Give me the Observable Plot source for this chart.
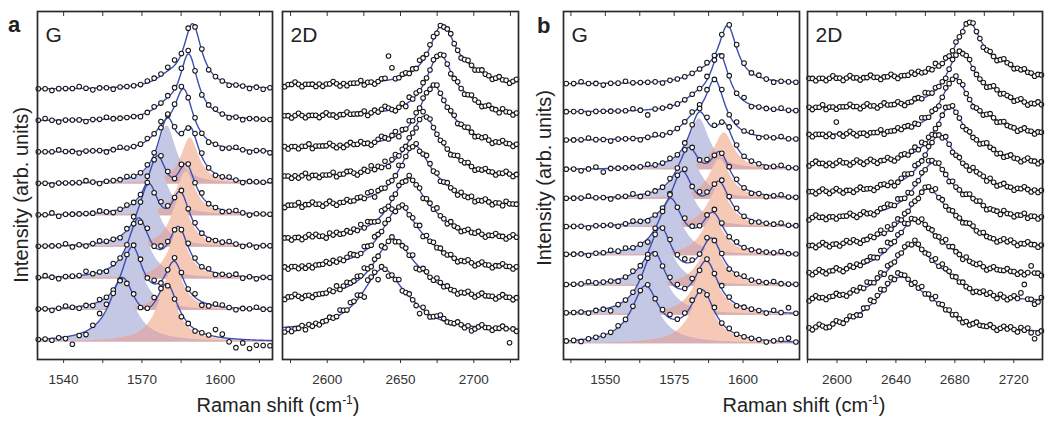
<!DOCTYPE html>
<html>
<head>
<meta charset="utf-8">
<script src="https://cdn.jsdelivr.net/npm/d3@7"></script>
<script src="https://cdn.jsdelivr.net/npm/@observablehq/plot@0.6"></script>
<style>
  body { margin: 0; background: #fff; }
  #fig { position: relative; width: 1050px; height: 428px; overflow: hidden; }
</style>
</head>
<body>
<div id="fig"></div>
<script>
const FONT = "'Liberation Sans', Arial, Helvetica, sans-serif";
const LINE = "#3a4db3";
const BLUE = "#c5c8e4";
const PINK = "#f6c9b7";
const MAUVE = "#d8afb5";

// Measured points are stored as deviations from the fitted curve, one digit per point
// (5 = on the curve, each step = one residual unit of intensity).
const G_RES_UNIT = 0.06;
const D_RES_UNIT = 0.08;

// ---------- panel a, G band: 9 spectra, top to bottom ----------
const aG_domain = [1530, 1620];
const aG_ticks = [1540, 1555, 1570, 1585, 1600, 1615];
const aG_labels = [1540, 1570, 1600];
const aG_offset = [9.32, 8.23, 7.14, 6.05, 4.96, 3.87, 2.78, 1.69, 0.60];
const aG_split  = [0, 0, 0, 1, 1, 1, 1, 1, 1];
const aG_loC = [1580, 1579, 1578.5, 1579.6, 1575.8, 1572.5, 1568.7, 1566.3, 1562.4];
const aG_loH = [0.28, 0.34, 0.55, 2.0, 1.86, 2.0, 1.97, 2.1, 2.07];
const aG_loW = [6, 6, 5.5, 4.4, 4.6, 4.8, 5.0, 4.9, 6.0];
const aG_hiC = [1589.4, 1587.9, 1586.0, 1588.5, 1587.0, 1584.7, 1584.0, 1582.4, 1579.6];
const aG_hiH = [2.18, 2.2, 2.0, 1.59, 1.52, 1.66, 1.62, 1.52, 1.79];
const aG_hiW = [4.2, 4.2, 4.5, 4.2, 4.4, 4.5, 4.6, 4.5, 5.3];
const aG_start = 1530.3, aG_step = 2.61;
const aG_resid = [
  "55455 56545 54555 56667 85756 45545 54545",
  "56545 55455 65555 45656 67754 56545 45555",
  "55565 54555 45655 56576 67565 45456 54554",
  "55455 55654 55565 56687 65477 54565 45556",
  "55645 55556 54565 57576 47657 55456 54555",
  "55556 45456 55467 56476 56565 45565 45455",
  "56545 55755 46556 38576 55765 64556 45455",
  "55456 54546 55366 75745 76573 46654 55655",
  "55454 04369 85446 45864 43545 59730 30222"
];

// ---------- panel a, 2D band ----------
const aD_domain = [2569.5, 2730.5];
const aD_ticks = [2575, 2600, 2625, 2650, 2675, 2700, 2725];
const aD_labels = [2600, 2650, 2700];
const aD_offset = [9.46, 8.38, 7.31, 6.29, 5.27, 4.13, 3.11, 2.05, 0.97];
const aD_center = [2678.6, 2676.7, 2672.2, 2666.0, 2659.7, 2655.1, 2649.5, 2644.9, 2637.7];
const aD_height = [2.04, 2.08, 2.1, 2.05, 2.04, 2.08, 2.1, 2.05, 2.1];
const aD_width  = [11, 11.5, 12, 12.5, 13.5, 14.5, 15.5, 16.5, 17.5];
const aD_shoulder = { shift: 20, frac: 0.1, width: 12 };
const aD_start = 2571, aD_step = 2.36;
const aD_resid = [
  "4556545554 5455654545 5564554566 5555665657 6566454565 5456545655 45655456",
  "5545654555 4565545565 5556456567 6545647565 6556556545 6545655456 55465545",
  "5455455645 5556545456 5565545676 5674657565 6545655566 4556545565 45565545",
  "5545456455 4555645566 5456575657 4675656545 7565556545 6556545565 54556545",
  "4555645565 5456545565 5665774665 6557456564 5765645655 4655645565 45546555",
  "5545545656 5546565565 6575765476 5656546556 4665755465 5456556545 56554565",
  "5455454545 5565656567 6557657656 5745665657 4656565565 4556545655 45565545",
  "4556545545 5556575676 6768656574 5645565734 6655765655 4556545655 54565545",
  "3434453545 4556557657 6752766565 3557456542 6545676555 6545345655 45565154"
];
// [spectrum, point index, deviation] for isolated points far from the fit
const aD_outliers = [[0, 30, 0.83], [0, 31, 0.4], [8, 27, -0.3], [8, 65, -0.48]];

// ---------- panel b, G band: 10 spectra ----------
const bG_domain = [1534.8, 1620.5];
const bG_ticks = [1537.5, 1550, 1562.5, 1575, 1587.5, 1600, 1612.5];
const bG_labels = [1550, 1575, 1600];
const bG_offset = [9.5, 8.53, 7.55, 6.54, 5.53, 4.55, 3.58, 2.53, 1.53, 0.54];
const bG_split  = [0, 0, 0, 1, 1, 1, 1, 1, 1, 1];
const bG_loC = [1585, 1583, 1582, 1584.1, 1580.2, 1577.8, 1573.6, 1570.0, 1567.5, 1564.5];
const bG_loH = [0.25, 0.35, 0.5, 1.76, 1.59, 1.79, 1.86, 1.93, 2.07, 1.9];
const bG_loW = [6, 6, 5.5, 4.6, 5.0, 5.0, 5.2, 5.2, 5.5, 6.0];
const bG_hiC = [1594.4, 1591.5, 1589.8, 1593.2, 1591.6, 1591.3, 1589.1, 1588.5, 1586.7, 1585.2];
const bG_hiH = [1.95, 1.9, 1.94, 1.28, 1.38, 1.38, 1.31, 1.52, 1.72, 1.72];
const bG_hiW = [4.1, 4.2, 4.4, 4.3, 4.6, 4.8, 5.0, 5.0, 5.2, 5.4];
const bG_start = 1535.8, bG_step = 2.69;
const bG_resid = [
  "55655 45565 55545 55556 56676 56545 55",
  "55545 55556 52555 55557 65657 45556 55",
  "55565 54555 45655 55667 58575 64556 55",
  "55456 35555 56556 56677 65765 55456 55",
  "55565 54556 45556 56657 55665 45456 55",
  "55545 55456 54556 67576 57665 45556 55",
  "55545 56565 53557 57656 76565 55556 55",
  "55565 55456 54557 67657 56456 55565 55",
  "55545 53555 66457 75746 57645 55465 85",
  "55455 55655 56567 56755 75655 55456 75"
];

// ---------- panel b, 2D band ----------
const bD_domain = [2580, 2739.5];
const bD_ticks = [2580, 2600, 2620, 2640, 2660, 2680, 2700, 2720];
const bD_labels = [2600, 2640, 2680, 2720];
const bD_offset = [9.67, 8.67, 7.73, 6.72, 5.74, 4.83, 3.84, 2.88, 1.96, 0.89];
const bD_center = [2689.5, 2684.0, 2679.9, 2676.5, 2669.7, 2665.4, 2661.4, 2653.4, 2651.2, 2643.2];
const bD_height = [1.9, 1.92, 1.91, 1.93, 1.95, 1.9, 1.98, 1.9, 1.94, 1.9];
const bD_width  = [11, 11.5, 12, 12.5, 13.5, 15, 17, 18, 19, 21];
const bD_shoulder = { shift: 24, frac: 0.15, width: 12 };
const bD_start = 2581, bD_step = 2.32;
const bD_resid = [
  "5545545655 4565545565 5455654555 6565565755 6556545565 5456545655 455655455",
  "5455645545 5565545655 4565556545 5665765655 4565545655 5545654555 456545565",
  "5455545455 4565455455 5645556566 5657656545 6556565545 5456545655 545655455",
  "4565545456 5545654565 4556545665 6757565545 6565545655 4565545456 554565545",
  "5545654565 4554565554 5665645676 5765565654 6545655465 5546545655 455654545",
  "4565545545 5565456554 5667657656 4656576565 5465545655 6545554655 455645545",
  "5545654554 5656545565 6757567565 6545665756 5565545665 5655545656 545565545",
  "5456545565 4565656676 5768656575 6546556565 7565546555 6545655565 545458554",
  "4565545565 5456565765 6757656566 5765565757 6656565545 5656546545 657555346",
  "5456544565 4565546575 6756757665 4657565756 5656545456 5556545656 546564545"
];
const bD_outliers = [[2, 8, 0.41], [8, 62, 0.2], [8, 63, 0.5], [9, 66, -0.28]];

// ---------- model ----------
const lor = (w, c, h, g) => h / (1 + ((w - c) / g) ** 2);
const parseRes = (s, unit) => Array.from(s.replace(/\s/g, ""), ch => (+ch - 5) * unit);

const gComps = (loC, loH, loW, hiC, hiH, hiW) => i => [
  { c: loC[i], h: loH[i], g: loW[i] },
  { c: hiC[i], h: hiH[i], g: hiW[i] }
];
const dComps = (center, height, width, sh) => i => [
  { c: center[i], h: height[i], g: width[i] },
  { c: center[i] + sh.shift, h: height[i] * sh.frac, g: sh.width }
];

const panels = [
  { x0: 37, x1: 272, name: "G", domain: aG_domain, ticks: aG_ticks, labels: aG_labels,
    offset: aG_offset, split: aG_split, comps: gComps(aG_loC, aG_loH, aG_loW, aG_hiC, aG_hiH, aG_hiW),
    start: aG_start, step: aG_step, resid: aG_resid, unit: G_RES_UNIT, outliers: [] },
  { x0: 282, x1: 518, name: "2D", domain: aD_domain, ticks: aD_ticks, labels: aD_labels,
    offset: aD_offset, split: null, comps: dComps(aD_center, aD_height, aD_width, aD_shoulder),
    start: aD_start, step: aD_step, resid: aD_resid, unit: D_RES_UNIT, outliers: aD_outliers },
  { x0: 563, x1: 799, name: "G", domain: bG_domain, ticks: bG_ticks, labels: bG_labels,
    offset: bG_offset, split: bG_split, comps: gComps(bG_loC, bG_loH, bG_loW, bG_hiC, bG_hiH, bG_hiW),
    start: bG_start, step: bG_step, resid: bG_resid, unit: G_RES_UNIT, outliers: [] },
  { x0: 807, x1: 1042, name: "2D", domain: bD_domain, ticks: bD_ticks, labels: bD_labels,
    offset: bD_offset, split: null, comps: dComps(bD_center, bD_height, bD_width, bD_shoulder),
    start: bD_start, step: bD_step, resid: bD_resid, unit: D_RES_UNIT, outliers: bD_outliers }
];

const FRAME_TOP = 11, FRAME_BOTTOM = 359;

function drawPanel(p) {
  const mL = 5, mR = 5, mT = FRAME_TOP, mB = 40;
  const fine = d3.range(p.domain[0], p.domain[1] + 1e-9, 0.2);
  const marks = [];
  const fitRows = [], dotRows = [];

  p.offset.forEach((off, i) => {
    const comps = p.comps(i);
    const total = w => off + d3.sum(comps, k => lor(w, k.c, k.h, k.g));
    fine.forEach(w => fitRows.push({ s: i, w, y: total(w) }));

    const res = parseRes(p.resid[i], p.unit);
    p.outliers.filter(o => o[0] === i).forEach(o => { res[o[1]] = o[2]; });
    res.forEach((r, j) => {
      const w = p.start + j * p.step;
      dotRows.push({ w, y: total(w) + r });
    });

    if (p.split && p.split[i]) {
      const [lo, hi] = comps;
      const rows = fine.map(w => {
        const a = lor(w, lo.c, lo.h, lo.g), b = lor(w, hi.c, hi.h, hi.g);
        return { w, y0: off, lo: off + a, hi: off + b, ov: off + Math.min(a, b) };
      });
      marks.push(Plot.areaY(rows, { x: "w", y1: "y0", y2: "lo", fill: BLUE, clip: true }));
      marks.push(Plot.areaY(rows, { x: "w", y1: "y0", y2: "hi", fill: PINK, clip: true }));
      marks.push(Plot.areaY(rows, { x: "w", y1: "y0", y2: "ov", fill: MAUVE, clip: true }));
    }
  });

  marks.push(Plot.line(fitRows, { x: "w", y: "y", z: "s", stroke: LINE, strokeWidth: 1.4, clip: true }));
  marks.push(Plot.dot(dotRows, { x: "w", y: "y", r: 2.3, fill: "white", stroke: "#161616", strokeWidth: 1.05 }));
  marks.push(Plot.frame({ stroke: "#2a2a2a", strokeWidth: 1.7 }));
  marks.push(Plot.axisX({ anchor: "bottom", ticks: p.ticks, tickSize: 4, tickFormat: () => "", label: null }));
  marks.push(Plot.axisX({ anchor: "bottom", ticks: p.labels, tickSize: 0, tickPadding: 15,
    tickFormat: d => String(d), label: null, fontSize: 13.5 }));
  marks.push(Plot.axisX({ anchor: "top", ticks: p.ticks, tickSize: 4, tickFormat: () => "", label: null, dy: 4 }));
  marks.push(Plot.text([p.name], { frameAnchor: "top-left", dx: 8, dy: 16, fontSize: 21,
    lineAnchor: "top", textAnchor: "start", fill: "#222" }));

  const svg = Plot.plot({
    width: p.x1 - p.x0 + mL + mR,
    height: FRAME_BOTTOM + mB,
    marginLeft: mL, marginRight: mR, marginTop: mT, marginBottom: mB,
    x: { domain: p.domain, axis: null },
    y: { domain: [0, 12], axis: null },
    style: { background: "transparent", overflow: "visible", fontFamily: FONT, fontSize: "13.5px", color: "#333" },
    marks
  });
  svg.style.position = "absolute";
  svg.style.left = (p.x0 - mL) + "px";
  svg.style.top = "0px";
  return svg;
}

const fig = document.getElementById("fig");
panels.forEach(p => fig.appendChild(drawPanel(p)));

// figure-level labels
const ov = d3.select(fig).append("svg")
  .attr("width", 1050).attr("height", 428)
  .style("position", "absolute").style("left", "0px").style("top", "0px")
  .style("font-family", FONT).attr("fill", "#222");

const panelLetters = [{ t: "a", x: 8, y: 32 }, { t: "b", x: 537, y: 33 }];
ov.selectAll("text.letter").data(panelLetters).join("text")
  .attr("class", "letter").attr("x", d => d.x).attr("y", d => d.y)
  .attr("font-size", 22).attr("font-weight", "bold").text(d => d.t);

const yTitles = [{ x: 27.5, y: 195 }, { x: 551, y: 178 }];
ov.selectAll("text.ytitle").data(yTitles).join("text")
  .attr("class", "ytitle")
  .attr("transform", d => `translate(${d.x},${d.y}) rotate(-90)`)
  .attr("text-anchor", "middle").attr("font-size", 20)
  .text("Intensity (arb. units)");

const xTitles = [{ x: 278, y: 412 }, { x: 804, y: 412 }];
xTitles.forEach(d => {
  const t = ov.append("text").attr("x", d.x).attr("y", d.y)
    .attr("text-anchor", "middle").attr("font-size", 20);
  t.append("tspan").text("Raman shift (cm");
  t.append("tspan").attr("font-size", 12).attr("dy", -8).text("-1");
  t.append("tspan").attr("dy", 8).text(")");
});
</script>
</body>
</html>
